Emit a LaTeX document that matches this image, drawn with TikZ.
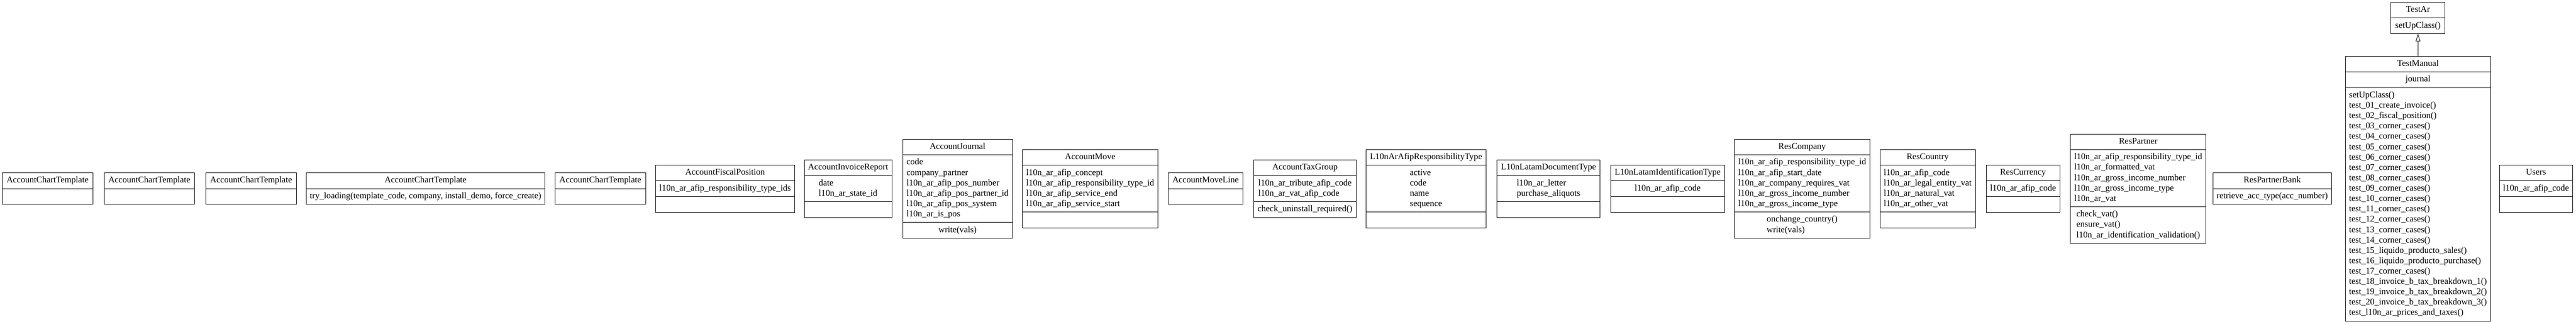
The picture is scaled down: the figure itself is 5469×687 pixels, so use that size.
\documentclass[tikz,border=0pt]{standalone}
\usepackage{fontspec}
\setmainfont{Liberation Serif}
\usetikzlibrary{shapes.multipart,arrows.meta}
\def\members#1{\begin{tabular}{@{}l@{}}#1\end{tabular}}

\begin{document}
\begin{tikzpicture}[x=0.75pt, y=-0.75pt,
		umlclass/.style={draw, line width=0.75pt, rectangle split, rectangle split parts=3,
			rectangle split empty part height=11.55pt, rectangle split empty part depth=4.95pt,
			font=\fontsize{14}{16.5}\selectfont, inner xsep=6pt, inner ysep=3.9pt, anchor=center},
		twopart/.style={umlclass, rectangle split parts=2}]
		%%%%% START %%%%%
		
		\useasboundingbox (0, 0) rectangle (5469, 687);
		
		\node[twopart, minimum width=144pt] (chartA) at (101, 400.5) {\strut AccountChartTemplate \nodepart{two} \strut};
		\node[twopart, minimum width=144pt] (chartB) at (317, 400.5) {\strut AccountChartTemplate \nodepart{two} \strut};
		\node[twopart, minimum width=144pt] (chartC) at (533, 400.5) {\strut AccountChartTemplate \nodepart{two} \strut};
		\node[twopart, minimum width=375.75pt] (chartD) at (903.5, 400.5) {\strut AccountChartTemplate
			\nodepart{two} \strut try\_loading(template\_code, company, install\_demo, force\_create)};
		\node[twopart, minimum width=144pt] (chartE) at (1274.5, 400.5) {\strut AccountChartTemplate \nodepart{two} \strut};
		
		\node[umlclass, minimum width=218.25pt] (fiscalpos) at (1539.5, 400.5) {\strut AccountFiscalPosition
			\nodepart{two} \members{l10n\_ar\_afip\_responsibility\_type\_ids} \nodepart{three} \strut};
		\node[umlclass, minimum width=138.75pt] (invreport) at (1800.5, 400.5) {\strut AccountInvoiceReport
			\nodepart{two} \members{date\\ l10n\_ar\_state\_id} \nodepart{three} \strut};
		\node[umlclass, minimum width=172.5pt] (journal) at (2033, 400.5) {\strut AccountJournal
			\nodepart{two} \members{code\\ company\_partner\\ l10n\_ar\_afip\_pos\_number\\ l10n\_ar\_afip\_pos\_partner\_id\\ l10n\_ar\_afip\_pos\_system\\ l10n\_ar\_is\_pos}
			\nodepart{three} \members{write(vals)}};
		\node[umlclass, minimum width=212.25pt] (move) at (2314.5, 400.5) {\strut AccountMove
			\nodepart{two} \members{l10n\_ar\_afip\_concept\\ l10n\_ar\_afip\_responsibility\_type\_id\\ l10n\_ar\_afip\_service\_end\\ l10n\_ar\_afip\_service\_start}
			\nodepart{three} \strut};
		\node[twopart, minimum width=119.25pt] (moveline) at (2559.5, 400.5) {\strut AccountMoveLine \nodepart{two} \strut};
		\node[umlclass, minimum width=161.25pt] (taxgroup) at (2770.5, 400.5) {\strut AccountTaxGroup
			\nodepart{two} \members{l10n\_ar\_tribute\_afip\_code\\ l10n\_ar\_vat\_afip\_code}
			\nodepart{three} \members{check\_uninstall\_required()}};
		
		\node[umlclass, minimum width=189.75pt] (resptype) at (3027.5, 400.5) {\strut L10nArAfipResponsibilityType
			\nodepart{two} \members{active\\ code\\ name\\ sequence} \nodepart{three} \strut};
		\node[umlclass, minimum width=164.25pt] (doctype) at (3287.5, 400.5) {\strut L10nLatamDocumentType
			\nodepart{two} \members{l10n\_ar\_letter\\ purchase\_aliquots} \nodepart{three} \strut};
		\node[umlclass, minimum width=180.75pt] (identtype) at (3540.5, 400.5) {\strut L10nLatamIdentificationType
			\nodepart{two} \members{l10n\_ar\_afip\_code} \nodepart{three} \strut};
		
		\node[umlclass, minimum width=213pt] (company) at (3826, 400.5) {\strut ResCompany
			\nodepart{two} \members{l10n\_ar\_afip\_responsibility\_type\_id\\ l10n\_ar\_afip\_start\_date\\ l10n\_ar\_company\_requires\_vat\\ l10n\_ar\_gross\_income\_number\\ l10n\_ar\_gross\_income\_type}
			\nodepart{three} \members{onchange\_country()\\ write(vals)}};
		\node[umlclass, minimum width=150.75pt] (country) at (4092.5, 400.5) {\strut ResCountry
			\nodepart{two} \members{l10n\_ar\_afip\_code\\ l10n\_ar\_legal\_entity\_vat\\ l10n\_ar\_natural\_vat\\ l10n\_ar\_other\_vat}
			\nodepart{three} \strut};
		\node[umlclass, minimum width=117pt] (currency) at (4295, 400.5) {\strut ResCurrency
			\nodepart{two} \members{l10n\_ar\_afip\_code} \nodepart{three} \strut};
		\node[umlclass, minimum width=212.25pt] (partner) at (4539.5, 400.5) {\strut ResPartner
			\nodepart{two} \members{l10n\_ar\_afip\_responsibility\_type\_id\\ l10n\_ar\_formatted\_vat\\ l10n\_ar\_gross\_income\_number\\ l10n\_ar\_gross\_income\_type\\ l10n\_ar\_vat}
			\nodepart{three} \members{check\_vat()\\ ensure\_vat()\\ l10n\_ar\_identification\_validation()}};
		\node[twopart, minimum width=178.5pt] (partnerbank) at (4824, 400.5) {\strut ResPartnerBank
			\nodepart{two} \strut retrieve\_acc\_type(acc\_number)};
		
		\node[twopart, minimum width=86.25pt] (testar) at (5133.5, 38) {\strut TestAr \nodepart{two} \strut setUpClass()};
		\node[umlclass, minimum width=228.75pt] (testmanual) at (5133.5, 400.5) {\strut TestManual
			\nodepart{two} \strut journal
			\nodepart{three} \members{setUpClass()\\ test\_01\_create\_invoice()\\ test\_02\_fiscal\_position()\\
				test\_03\_corner\_cases()\\ test\_04\_corner\_cases()\\ test\_05\_corner\_cases()\\ test\_06\_corner\_cases()\\
				test\_07\_corner\_cases()\\ test\_08\_corner\_cases()\\ test\_09\_corner\_cases()\\ test\_10\_corner\_cases()\\
				test\_11\_corner\_cases()\\ test\_12\_corner\_cases()\\ test\_13\_corner\_cases()\\ test\_14\_corner\_cases()\\
				test\_15\_liquido\_producto\_sales()\\ test\_16\_liquido\_producto\_purchase()\\ test\_17\_corner\_cases()\\
				test\_18\_invoice\_b\_tax\_breakdown\_1()\\ test\_19\_invoice\_b\_tax\_breakdown\_2()\\ test\_20\_invoice\_b\_tax\_breakdown\_3()\\
				test\_l10n\_ar\_prices\_and\_taxes()}};
		\draw[line width=0.75pt, -{Triangle[open, length=12pt, width=7.5pt]}] (testmanual) -- (testar);
		
		\node[umlclass, minimum width=117pt] (users) at (5384, 400.5) {\strut Users
			\nodepart{two} \members{l10n\_ar\_afip\_code} \nodepart{three} \strut};
		
		%%%%% END %%%%%
	\end{tikzpicture}
\end{document}
